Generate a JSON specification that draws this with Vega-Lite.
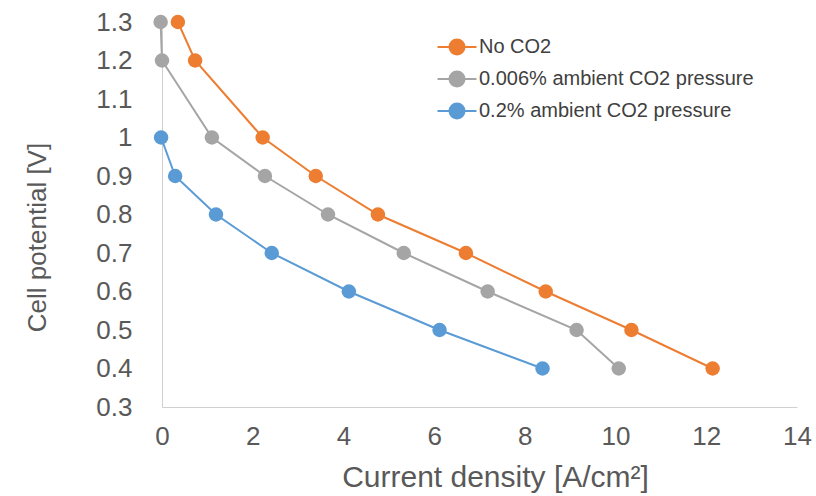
{
  "$schema": "https://vega.github.io/schema/vega-lite/v6.json",
  "width": 635,
  "height": 385,
  "autosize": {"type": "none"},
  "padding": {"left": 162, "top": 22, "right": 19, "bottom": 89},
  "background": "white",
  "config": {
    "view": {"stroke": null},
    "font": "Liberation Sans",
    "axis": {
      "domainColor": "#d0d0d0",
      "tickColor": "#d0d0d0",
      "grid": false,
      "labelFlush": false,
      "labelColor": "#595959",
      "titleColor": "#595959",
      "labelFontSize": 26,
      "titleFontWeight": "normal",
      "labelFont": "Liberation Sans",
      "titleFont": "Liberation Sans"
    }
  },
  "data": {
    "values": [
      {"series": "No CO2", "j": 0.35, "v": 1.3},
      {"series": "No CO2", "j": 0.73, "v": 1.2},
      {"series": "No CO2", "j": 2.22, "v": 1.0},
      {"series": "No CO2", "j": 3.39, "v": 0.9},
      {"series": "No CO2", "j": 4.76, "v": 0.8},
      {"series": "No CO2", "j": 6.7, "v": 0.7},
      {"series": "No CO2", "j": 8.46, "v": 0.6},
      {"series": "No CO2", "j": 10.35, "v": 0.5},
      {"series": "No CO2", "j": 12.14, "v": 0.4},
      {"series": "0.006% ambient CO2 pressure", "j": -0.03, "v": 1.3},
      {"series": "0.006% ambient CO2 pressure", "j": 0.0, "v": 1.2},
      {"series": "0.006% ambient CO2 pressure", "j": 1.1, "v": 1.0},
      {"series": "0.006% ambient CO2 pressure", "j": 2.27, "v": 0.9},
      {"series": "0.006% ambient CO2 pressure", "j": 3.66, "v": 0.8},
      {"series": "0.006% ambient CO2 pressure", "j": 5.33, "v": 0.7},
      {"series": "0.006% ambient CO2 pressure", "j": 7.18, "v": 0.6},
      {"series": "0.006% ambient CO2 pressure", "j": 9.14, "v": 0.5},
      {"series": "0.006% ambient CO2 pressure", "j": 10.07, "v": 0.4},
      {"series": "0.2% ambient CO2 pressure", "j": -0.02, "v": 1.0},
      {"series": "0.2% ambient CO2 pressure", "j": 0.29, "v": 0.9},
      {"series": "0.2% ambient CO2 pressure", "j": 1.19, "v": 0.8},
      {"series": "0.2% ambient CO2 pressure", "j": 2.42, "v": 0.7},
      {"series": "0.2% ambient CO2 pressure", "j": 4.12, "v": 0.6},
      {"series": "0.2% ambient CO2 pressure", "j": 6.12, "v": 0.5},
      {"series": "0.2% ambient CO2 pressure", "j": 8.39, "v": 0.4}
    ]
  },
  "encoding": {
    "x": {
      "field": "j", "type": "quantitative",
      "scale": {"domain": [0, 14], "nice": false, "zero": false},
      "axis": {
        "values": [0, 2, 4, 6, 8, 10, 12, 14], "tickSize": 0, "labelPadding": 16,
        "title": "Current density [A/cm²]", "titleFontSize": 30,
        "titleX": 333, "titleY": 79, "titleBaseline": "alphabetic", "titleAlign": "center",
        "encode": {"ticks": {"update": {"y2": {"value": -6}}}}
      }
    },
    "y": {
      "field": "v", "type": "quantitative",
      "scale": {"domain": [0.3, 1.3], "nice": false, "zero": false},
      "axis": {
        "values": [0.3, 0.4, 0.5, 0.6, 0.7, 0.8, 0.9, 1.0, 1.1, 1.2, 1.3], "format": "~g",
        "tickSize": 0, "labelPadding": 30,
        "title": "Cell potential [V]", "titleFontSize": 26,
        "titleX": -117, "titleY": 215, "titleAngle": -90, "titleBaseline": "alphabetic", "titleAlign": "center",
        "encode": {"ticks": {"update": {"x2": {"value": 6}}}}
      }
    },
    "color": {
      "field": "series", "type": "nominal",
      "sort": ["No CO2", "0.006% ambient CO2 pressure", "0.2% ambient CO2 pressure"],
      "scale": {"domain": ["No CO2", "0.006% ambient CO2 pressure", "0.2% ambient CO2 pressure"], "range": ["#ED7D31", "#A5A5A5", "#5B9BD5"]},
      "legend": {
        "orient": "none", "legendX": 284, "legendY": 14, "title": null,
        "labelFontSize": 20, "labelColor": "#404040", "labelFont": "Liberation Sans", "labelLimit": 400,
        "symbolType": "M -1.95 0 L -0.75 0 M 0.75 0 L 1.95 0 M 0.75 0 A 0.75 0.75 0 1 1 -0.75 0 A 0.75 0.75 0 1 1 0.75 0",
        "symbolSize": 400, "symbolStrokeWidth": 2, "rowPadding": 8, "labelOffset": 11, "padding": 0,
        "encode": {"symbols": {"update": {"fill": {"scale": "color", "field": "value"}, "stroke": {"scale": "color", "field": "value"}, "opacity": {"value": 1}}}}
      }
    }
  },
  "layer": [
    {"mark": {"type": "line", "strokeWidth": 2}, "encoding": {"order": {"field": "v", "sort": "descending"}}},
    {"mark": {"type": "point", "filled": true, "size": 210, "opacity": 1}}
  ]
}
